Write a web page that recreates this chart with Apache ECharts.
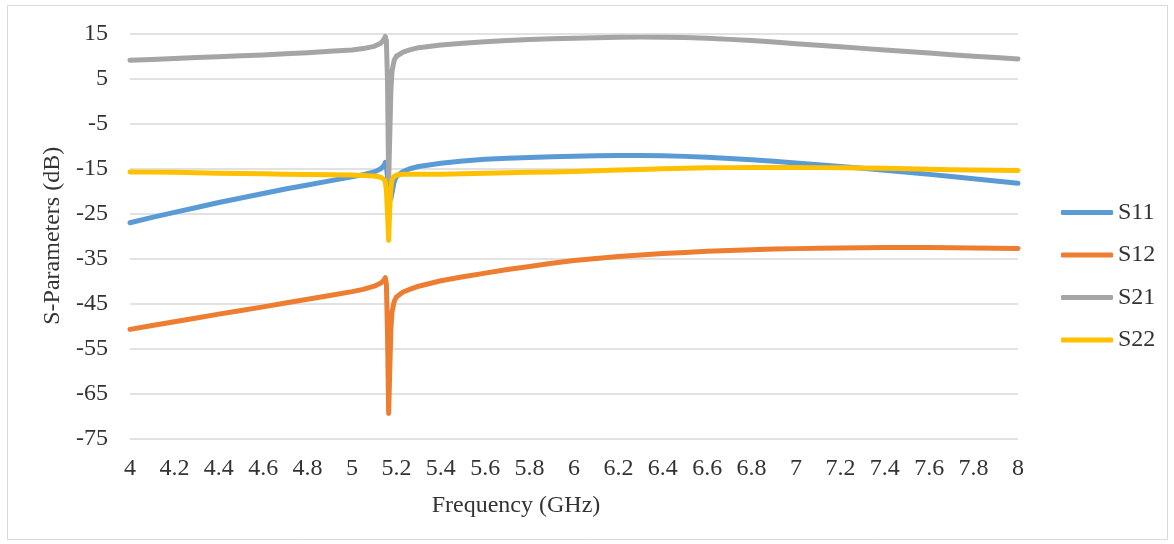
<!DOCTYPE html>
<html>
<head>
<meta charset="utf-8">
<script src="https://cdn.jsdelivr.net/npm/echarts@6/dist/echarts.min.js"></script>
<style>
html,body{margin:0;padding:0;background:#fff;}
#chart{width:1174px;height:544px;}
</style>
</head>
<body>
<div id="chart"></div>
<script>
const freq = [4.0,4.1,4.2,4.3,4.4,4.5,4.6,4.7,4.8,4.9,5.0,
  5.05,5.1,5.13,5.145,5.15,5.155,5.16,5.165,5.17,5.175,5.18,5.19,5.2,5.23,5.26,5.3,5.4,5.5,5.6,5.7,5.8,5.9,
  6.0,6.1,6.2,6.3,6.4,6.5,6.6,6.7,6.8,6.9,7.0,7.1,7.2,7.3,7.4,7.5,7.6,7.7,7.8,7.9,8.0];
const s11 = [-27.1,-25.9,-24.8,-23.7,-22.6,-21.6,-20.6,-19.6,-18.7,-17.8,-16.9,
  -16.4,-15.8,-15.1,-14.3,-13.7,-14.5,-17,-19.5,-21.2,-21.8,-20.5,-18.0,-16.8,-15.7,-15.1,-14.6,-13.9,-13.4,-13.0,-12.75,-12.6,-12.45,
  -12.3,-12.2,-12.15,-12.15,-12.2,-12.35,-12.55,-12.8,-13.1,-13.45,-13.8,-14.2,-14.6,-15.0,-15.45,-15.9,-16.35,-16.8,-17.3,-17.8,-18.3];
const s12 = [-50.8,-49.95,-49.1,-48.25,-47.4,-46.6,-45.8,-44.95,-44.1,-43.25,-42.4,
  -41.9,-41.2,-40.5,-39.8,-39.3,-40.8,-52,-69.5,-60,-51,-47,-44.6,-43.6,-42.5,-41.9,-41.2,-40.0,-39.1,-38.3,-37.5,-36.8,-36.1,
  -35.5,-35.05,-34.6,-34.25,-33.95,-33.7,-33.45,-33.25,-33.1,-32.95,-32.85,-32.75,-32.7,-32.65,-32.6,-32.6,-32.6,-32.65,-32.7,-32.75,-32.8];
const s21 = [9.0,9.2,9.4,9.6,9.8,10.0,10.2,10.45,10.7,11.0,11.3,
  11.6,12.1,12.8,13.7,14.3,13.2,4,-18,-8,2,6.5,9.0,9.9,10.8,11.3,11.8,12.4,12.8,13.1,13.4,13.6,13.8,
  13.9,14.0,14.1,14.15,14.15,14.05,13.9,13.65,13.4,13.05,12.7,12.35,12.0,11.65,11.3,10.95,10.6,10.25,9.9,9.6,9.3];
const s22 = [-15.8,-15.85,-15.9,-16.0,-16.1,-16.15,-16.2,-16.3,-16.4,-16.45,-16.5,
  -16.6,-16.7,-17.0,-17.5,-18.0,-20,-25,-31,-24,-19.5,-17.6,-16.8,-16.5,-16.3,-16.3,-16.3,-16.3,-16.2,-16.1,-16.0,-15.9,-15.8,
  -15.7,-15.55,-15.4,-15.25,-15.1,-15.0,-14.9,-14.85,-14.8,-14.8,-14.8,-14.85,-14.9,-14.95,-15.0,-15.1,-15.2,-15.3,-15.4,-15.45,-15.5];
const seriesNames = ['S11','S12','S21','S22'];
const seriesColors = ['#5B9BD5','#ED7D31','#A5A5A5','#FFC000'];
const seriesValues = [s11, s12, s21, s22];

const chart = echarts.init(document.getElementById('chart'));
const font = 'Liberation Serif';
const fs = 24;
chart.setOption({
  animation: false,
  backgroundColor: '#fff',
  textStyle: {fontFamily: font},
  graphic: [{
    type: 'rect', shape: {x: 7.5, y: 5.5, width: 1160, height: 534},
    style: {fill: 'none', stroke: '#D9D9D9', lineWidth: 1}, silent: true, z: -1
  }],
  grid: {left: 130, right: 156, top: 33.3, bottom: 105.7, containLabel: false},
  legend: {
    orient: 'vertical', left: 1061, top: 200.5, padding: 0,
    itemWidth: 52, itemHeight: 5, itemGap: 18.5,
    icon: 'roundRect',
    textStyle: {fontFamily: font, fontSize: fs, color: '#333', lineHeight: 24},
    data: seriesNames
  },
  xAxis: {
    type: 'value', min: 4, max: 8, interval: 0.2,
    name: 'Frequency (GHz)', nameLocation: 'middle', nameGap: 55,
    nameTextStyle: {fontFamily: font, fontSize: fs, color: '#333', padding: [0,116,0,0]},
    axisLine: {show: false}, axisTick: {show: false},
    splitLine: {show: false},
    axisLabel: {fontFamily: font, fontSize: fs, color: '#333', margin: 18,
      formatter: v => String(Math.round(v*10)/10)}
  },
  yAxis: {
    type: 'value', min: -75, max: 15, interval: 10,
    name: 'S-Parameters (dB)', nameLocation: 'middle', nameGap: 59, nameRotate: 90,
    nameTextStyle: {fontFamily: font, fontSize: fs, color: '#333'},
    axisLine: {show: false}, axisTick: {show: false},
    splitLine: {lineStyle: {color: '#D9D9D9', width: 1.5}},
    axisLabel: {fontFamily: font, fontSize: fs, color: '#333', margin: 22}
  },
  series: seriesNames.map((n, i) => ({
    name: n, type: 'line', showSymbol: false, symbol: 'none',
    color: seriesColors[i],
    lineStyle: {width: 5, cap: 'round', join: 'round'},
    data: freq.map((f, j) => [f, seriesValues[i][j]])
  }))
});
</script>
</body>
</html>
